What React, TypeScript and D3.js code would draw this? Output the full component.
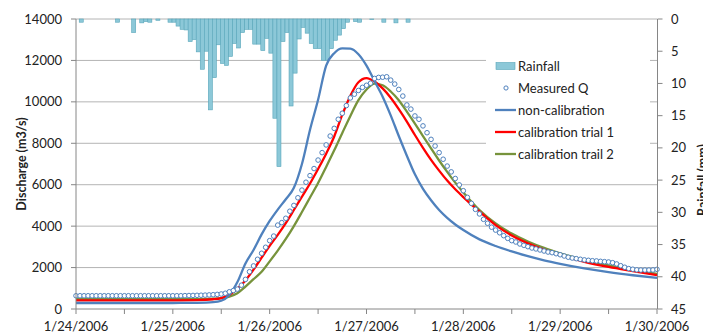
import React, { useRef, useEffect } from 'react';
import * as d3 from 'd3';

// hours are counted from 1/24/2006 0:00
const dateLabels = ["1/24/2006", "1/25/2006", "1/26/2006", "1/27/2006", "1/28/2006", "1/29/2006", "1/30/2006"];
const dischargeTicks = [0, 2000, 4000, 6000, 8000, 10000, 12000, 14000];
const rainTicks = [0, 5, 10, 15, 20, 25, 30, 35, 40, 45];

// hourly rainfall (mm), hour 0..82
const rainfall = [
  0, 0.5, 0, 0, 0, 0, 0, 0, 0, 0, 0.5, 0, 0, 0, 2.1, 0, 0.6, 0.4, 0.5, 0, 0.2, 0, 0, 0.5,
  0.5, 1.1, 1.6, 1.7, 3.5, 3.2, 5.1, 7.8, 5.0, 14.1, 9.1, 4.0, 6.9, 7.2, 5.8, 3.8, 4.5, 2.1, 1.6, 1.6,
  3.9, 3.9, 4.9, 3.0, 5.3, 15.4, 22.9, 3.5, 2.1, 13.5, 8.4, 3.1, 1.3, 2.2, 3.8, 4.6, 4.6, 6.4, 6.4, 4.6,
  3.3, 2.5, 1.5, 0.5, 0, 0.4, 0.5, 0, 0, 0.1, 0, 0, 0.5, 0, 0, 0.6, 0, 0, 0.5
];

// hourly measured discharge (m3/s), hour 0..144
const measuredQ = [
  640, 640, 640, 640, 640, 640, 640, 640, 640, 640, 640, 640, 640, 640, 640, 640, 640, 640, 640, 640,
  640, 640, 640, 640, 640, 640, 640, 645, 650, 655, 660, 665, 670, 680, 690, 705, 725, 760, 830, 890,
  960, 1150, 1430, 1800, 2080, 2400, 2690, 2980, 3300, 3520, 4050, 4170, 4380, 4720, 5000, 5370, 5740, 6120, 6440, 6780,
  7190, 7550, 7920, 8350, 8720, 9160, 9450, 9820, 10190, 10370, 10550, 10700, 10800, 10900, 11130, 11180, 11190, 11210, 11050, 10860,
  10600, 10280, 9850, 9650, 9320, 9160, 8840, 8510, 8190, 7870, 7550, 7230, 6900, 6620, 6300, 5990, 5710, 5390, 5100, 4810,
  4590, 4330, 4140, 3950, 3810, 3680, 3540, 3410, 3300, 3235, 3140, 3075, 3010, 2945, 2900, 2850, 2800, 2750, 2720, 2670,
  2620, 2560, 2500, 2460, 2430, 2400, 2370, 2350, 2330, 2320, 2300, 2285, 2270, 2235, 2175, 2090, 2015, 1950, 1920, 1890,
  1880, 1880, 1880, 1885, 1915
];

// simulated discharge, sampled at these hours
const modelHours = [
  0, 24, 30, 34, 36, 38, 40, 42, 44, 46, 48, 50, 52, 54, 56, 58, 60, 62, 64, 66, 68, 70, 72, 74, 76,
  78, 80, 82, 84, 86, 88, 90, 92, 94, 96, 100, 104, 108, 112, 116, 120, 126, 132, 138, 144
];
const nonCalibration = [
  290, 290, 300, 330, 400, 680, 1300, 2200, 2850, 3600, 4250, 4800, 5300, 5850, 7000, 8650, 10100, 11750, 12350, 12580,
  12570, 12300, 11750, 11000, 10250, 9350, 8350, 7400, 6500, 5800, 5250, 4780, 4400, 4080, 3810, 3360, 3040, 2780, 2550, 2350,
  2180, 1960, 1780, 1630, 1500
];
const calibrationTrial1 = [
  420, 420, 430, 470, 530, 680, 980, 1380, 1900, 2480, 3050, 3580, 4150, 4780, 5420, 6060, 6760, 7500, 8330, 9380,
  10300, 10950, 11150, 10980, 10650, 10200, 9650, 9050, 8400, 7780, 7200, 6680, 6200, 5780, 5400, 4700, 4050, 3550, 3170, 2860,
  2610, 2280, 2030, 1830, 1640
];
const calibrationTrail2 = [
  470, 470, 475, 495, 520, 600, 760, 1080, 1440, 1800, 2300, 2820, 3380, 4000, 4680, 5380, 6080, 6860, 7660, 8500,
  9320, 10080, 10600, 10880, 10800, 10500, 10080, 9530, 8950, 8350, 7750, 7170, 6620, 6100, 5630, 4780, 4130, 3640, 3260, 2950,
  2690, 2360, 2100, 1890, 1700
];

const FONT = "Lato, 'Liberation Sans', sans-serif";
const AXIS = "#868686";
const GRID = "#B4B4B4";

export default function App() {
  const ref = useRef<SVGSVGElement>(null);

  useEffect(() => {
    const svg = d3.select(ref.current);
    svg.selectAll("*").remove();

    const x = d3.scaleLinear().domain([0, 144]).range([76, 657]);
    const y = d3.scaleLinear().domain([0, 14000]).range([309, 19]);
    const yRain = d3.scaleLinear().domain([0, 45]).range([19, 309]);
    const [x0, x1] = x.range();

    // gridlines
    svg.append("g").selectAll("line")
      .data(dischargeTicks.slice(1))
      .join("line")
      .attr("x1", x0).attr("x2", x1)
      .attr("y1", d => y(d)).attr("y2", d => y(d))
      .attr("stroke", GRID).attr("stroke-width", 1);

    // rainfall bars hanging from the top
    const bw = x(1) - x(0);
    svg.append("g").selectAll("rect")
      .data(rainfall.map((v, h) => ({ h, v })).filter(d => d.v > 0))
      .join("rect")
      .attr("x", d => x(d.h - 0.2))
      .attr("y", yRain(0))
      .attr("width", bw)
      .attr("height", d => yRain(d.v) - yRain(0))
      .attr("fill", "#8CC8D8")
      .attr("stroke", "#58A6BA")
      .attr("stroke-width", 0.6);

    // model lines
    const line = d3.line<number>()
      .x((_, i) => x(modelHours[i]))
      .y(d => y(d))
      .curve(d3.curveMonotoneX);
    const series = [
      { values: calibrationTrail2, color: "#77933C" },
      { values: calibrationTrial1, color: "#FF0000" },
      { values: nonCalibration, color: "#4F81BD" },
    ];
    svg.append("g").selectAll("path")
      .data(series)
      .join("path")
      .attr("d", d => line(d.values))
      .attr("fill", "none")
      .attr("stroke", d => d.color)
      .attr("stroke-width", 2.3);

    // measured points
    svg.append("g").selectAll("circle")
      .data(measuredQ)
      .join("circle")
      .attr("cx", (_, i) => x(i))
      .attr("cy", d => y(d))
      .attr("r", 2.3)
      .attr("fill", "white")
      .attr("stroke", "#4F81BD")
      .attr("stroke-width", 1);

    // axes lines
    const axes = svg.append("g").attr("stroke", AXIS).attr("stroke-width", 1);
    axes.append("line").attr("x1", x0).attr("x2", x0).attr("y1", y(14000)).attr("y2", y(0));
    axes.append("line").attr("x1", x1 + 0.5).attr("x2", x1 + 0.5).attr("y1", yRain(0)).attr("y2", yRain(45));
    axes.append("line").attr("x1", x0).attr("x2", x1).attr("y1", y(0)).attr("y2", y(0));

    // left axis
    axes.selectAll("line.lt").data(dischargeTicks).join("line").attr("class", "lt")
      .attr("x1", x0 - 5).attr("x2", x0).attr("y1", d => y(d)).attr("y2", d => y(d));
    svg.append("g").selectAll("text").data(dischargeTicks).join("text")
      .attr("x", 62).attr("y", d => y(d)).attr("dy", "0.35em")
      .attr("text-anchor", "end")
      .attr("font-family", FONT).attr("font-size", 13).attr("fill", "#222")
      .text(d => d);

    // right axis
    axes.selectAll("line.rt").data(rainTicks).join("line").attr("class", "rt")
      .attr("x1", x1 + 0.5).attr("x2", x1 + 5.5).attr("y1", d => yRain(d)).attr("y2", d => yRain(d));
    svg.append("g").selectAll("text").data(rainTicks).join("text")
      .attr("x", 671).attr("y", d => yRain(d)).attr("dy", "0.35em")
      .attr("font-family", FONT).attr("font-size", 13).attr("fill", "#222")
      .text(d => d);

    // bottom axis
    axes.selectAll("line.bt").data(d3.range(0, 145, 12)).join("line").attr("class", "bt")
      .attr("x1", d => x(d)).attr("x2", d => x(d)).attr("y1", y(0)).attr("y2", y(0) + 5);
    svg.append("g").selectAll("text").data(dateLabels).join("text")
      .attr("x", (_, i) => x(i * 24)).attr("y", 331)
      .attr("text-anchor", "middle")
      .attr("font-family", FONT).attr("font-size", 13).attr("fill", "#222")
      .text(d => d);

    // axis titles (the right one is cut by the page edge, as in the source figure)
    svg.append("text")
      .attr("transform", "translate(26,164) rotate(-90)")
      .attr("text-anchor", "middle")
      .attr("font-family", FONT).attr("font-size", 12.5).attr("font-weight", "bold").attr("fill", "#222")
      .text("Discharge (m3/s)");
    svg.append("text")
      .attr("transform", "translate(707,180) rotate(-90)")
      .attr("text-anchor", "middle")
      .attr("font-family", FONT).attr("font-size", 12.5).attr("font-weight", "bold").attr("fill", "#222")
      .text("Rainfall (mm)");

    // legend
    const lg = svg.append("g");
    lg.append("rect").attr("x", 486).attr("y", 50).attr("width", 164).attr("height", 118).attr("fill", "white");
    const items = [
      { label: "Rainfall", kind: "bar", color: "#8CC8D8" },
      { label: "Measured Q", kind: "dot", color: "#4F81BD" },
      { label: "non-calibration", kind: "line", color: "#4F81BD" },
      { label: "calibration trial 1", kind: "line", color: "#FF0000" },
      { label: "calibration trail 2", kind: "line", color: "#77933C" },
    ];
    items.forEach((it, i) => {
      const cy = 66 + i * 22;
      if (it.kind === "bar") {
        lg.append("rect").attr("x", 496).attr("y", cy - 3.5).attr("width", 19).attr("height", 7)
          .attr("fill", it.color).attr("stroke", "#58A6BA").attr("stroke-width", 0.6);
      } else if (it.kind === "dot") {
        lg.append("circle").attr("cx", 506).attr("cy", cy).attr("r", 2.1)
          .attr("fill", "white").attr("stroke", it.color).attr("stroke-width", 1);
      } else {
        lg.append("line").attr("x1", 495).attr("x2", 516).attr("y1", cy).attr("y2", cy)
          .attr("stroke", it.color).attr("stroke-width", 2.3);
      }
      lg.append("text").attr("x", 518).attr("y", cy).attr("dy", "0.35em")
        .attr("font-family", FONT).attr("font-size", 13).attr("fill", "#222")
        .text(it.label);
    });
  }, []);

  return (
    <svg ref={ref} width={703} height={334}
      style={{ position: "absolute", left: 0, top: 0, background: "white" }} />
  );
}
